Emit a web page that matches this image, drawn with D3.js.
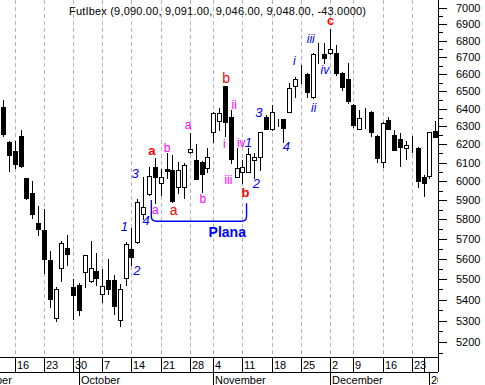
<!DOCTYPE html>
<meta charset="utf-8">
<script src="https://d3js.org/d3.v7.min.js"></script>
<style>
  body { margin: 0; background: #fff; }
  svg { display: block; }
</style>
<div id="chart"></div>
<script>

  // trading days shown (Sep 2002 - Jan 2003)
  var days = ["2002-09-12","2002-09-13","2002-09-16","2002-09-17","2002-09-18","2002-09-19","2002-09-20",
    "2002-09-23","2002-09-24","2002-09-25","2002-09-26","2002-09-27","2002-09-30",
    "2002-10-01","2002-10-02","2002-10-03","2002-10-04","2002-10-07","2002-10-08","2002-10-09","2002-10-10","2002-10-11",
    "2002-10-14","2002-10-15","2002-10-16","2002-10-17","2002-10-18","2002-10-21","2002-10-22","2002-10-23","2002-10-24","2002-10-25",
    "2002-10-28","2002-10-29","2002-10-30","2002-10-31",
    "2002-11-04","2002-11-05","2002-11-06","2002-11-07","2002-11-08","2002-11-11","2002-11-12","2002-11-13","2002-11-14","2002-11-15",
    "2002-11-18","2002-11-19","2002-11-20","2002-11-21","2002-11-22","2002-11-25","2002-11-26","2002-11-27","2002-11-28","2002-11-29",
    "2002-12-02","2002-12-03","2002-12-04","2002-12-05","2002-12-09","2002-12-10","2002-12-11","2002-12-12","2002-12-13",
    "2002-12-16","2002-12-17","2002-12-18","2002-12-19","2002-12-20","2002-12-23","2002-12-27","2002-12-30",
    "2003-01-02","2003-01-03"];

  var open  = [6408,6213,6163,6246,6015,5935,5782,5744,5593,5310,5552,5652,5463,5473,5532,5491,5538,5425,5494,5494,
               5301,5503,5647,5682,5830,5932,6077,5993,6065,6060,5970,5970,6160,6114,6105,6069,6270,6332,6532,6351,
               6023,6047,6050,6114,6132,6351,6283,6322,6340,6383,6532,6597,6599,6465,6723,6717,6723,6727,6605,6571,
               6420,6283,6388,6379,6246,6101,6334,6252,6229,6178,6220,6178,6020,6027,6274];
  var high  = [6449,6218,6218,6280,6017,6000,5869,5856,5638,5461,5690,5719,5499,5481,5620,5690,5628,5548,5600,5519,
               5476,5685,5753,5905,6023,6077,6123,6065,6154,6141,6105,6099,6261,6200,6110,6178,6383,6402,6532,6392,
               6178,6114,6178,6150,6270,6364,6420,6341,6340,6548,6585,6654,6605,6723,6784,6784,6870,6773,6610,6664,
               6425,6392,6405,6385,6250,6322,6353,6280,6261,6218,6246,6183,6033,6270,6330];
  var low   = [6248,6056,6072,6077,5905,5808,5719,5530,5365,5298,5491,5569,5307,5326,5461,5483,5470,5389,5425,5332,
               5274,5470,5569,5677,5804,5926,5883,5926,6015,5891,5935,5912,6152,6011,5944,6050,6214,6280,6248,6099,
               6023,5988,6050,6015,6060,6283,6280,6302,6214,6383,6468,6547,6468,6460,6664,6664,6717,6594,6507,6430,
               6297,6283,6289,6248,6101,6077,6285,6169,6083,6119,6156,5970,5923,6015,6239];
  var close = [6257,6141,6094,6081,5912,5825,5750,5597,5401,5449,5677,5622,5422,5349,5617,5552,5505,5464,5449,5370,
               5449,5672,5609,5888,5865,6027,6020,6025,6054,5896,6062,6087,6174,6011,6037,6132,6373,6373,6326,6118,
               6069,6074,6145,6132,6267,6283,6383,6322,6289,6517,6570,6592,6497,6717,6723,6693,6747,6605,6526,6443,
               6307,6345,6388,6267,6126,6317,6285,6169,6187,6196,6220,6002,5988,6267,6239];

  var weekTicks  = ["2002-09-16","2002-09-23","2002-09-30","2002-10-07","2002-10-14","2002-10-21","2002-10-28",
                    "2002-11-04","2002-11-11","2002-11-18","2002-11-25","2002-12-02","2002-12-09","2002-12-16",
                    "2002-12-23","2002-12-30"];
  var weekLabels = ["16","23","30","7","14","21","28","4","11","18","25","2","9","16","23",""];

  var monthStarts = ["2002-09-02","2002-10-01","2002-11-04","2002-12-02","2003-01-02"];
  var monthLabels = ["September","October","November","December","2003"];

  var priceTicks = [5200,5300,5400,5500,5600,5700,5800,5900,6000,6100,6200,6300,6400,6500,6600,6700,6800,6900,7000];
  var minorTicks = [5150,5250,5350,5450,5550,5650,5750,5850,5950,6050,6150,6250,6350,6450,6550,6650,6750,6850,6950];

  var title = "FutIbex (9,090.00, 9,091.00, 9,046.00, 9,048.00, -43.0000)";

  // wave labels: text, day index, price, kind
  var waveLabels = [
    ["1", 20.8, 5739, "wave"], ["2", 22.9, 5519, "wave"], ["3", 22.6, 6018, "wave"], ["4", 24.5, 5770, "wave"],
    ["1", 42.0, 6187, "wave"], ["2", 43.4, 5962, "wave"], ["3", 43.8, 6353, "wave"], ["4", 48.5, 6163, "wave"],
    ["i", 49.9, 6654, "sub"], ["ii", 53.2, 6379, "sub"], ["iii", 52.7, 6784, "sub"], ["iv", 55.1, 6599, "sub"],
    ["a", 25.5, 6141, "redB"], ["a", 29.2, 5822, "red"], ["b", 38.2, 6546, "red"], ["b", 41.5, 5917, "redB"],
    ["c", 56.1, 6895, "redB"],
    ["a", 26.1, 5830, "mag"], ["b", 28.1, 6160, "mag"], ["a", 31.7, 6285, "mag"], ["b", 34.2, 5883, "mag"],
    ["i", 37.9, 6178, "mag"], ["ii", 39.6, 6398, "mag"], ["iii", 38.6, 5985, "mag"], ["iv", 40.8, 6187, "mag"],
    ["Plana", 38.4, 5709, "plana"]
  ];
  // bracket under the flat correction: from/to day index, top prices, bottom price
  var bracket = {from: 25.4, to: 41.7, leftTop: 5900, rightTop: 5884, bottom: 5790};

  var styles = {
    wave:  {fill: "#0000ff", size: 13, weight: "normal", italic: true},
    sub:   {fill: "#0000ff", size: 12, weight: "normal", italic: true},
    red:   {fill: "#ff0000", size: 14, weight: "normal", italic: false},
    redB:  {fill: "#ff0000", size: 13, weight: "bold", italic: false},
    mag:   {fill: "#ff00ff", size: 12, weight: "normal", italic: false},
    plana: {fill: "#0000ff", size: 14, weight: "bold", italic: false}
  };

  var W = 485, H = 385, plotW = 438, plotH = 357, row1 = 372;
  var font = "'Liberation Sans', Arial, sans-serif";

  var svg = d3.select("#chart").append("svg")
      .attr("width", W).attr("height", H)
      .style("font-family", font);

  var x = d3.scaleLinear().domain([0, days.length - 1]).range([3, 435.2]);
  var y = d3.scaleLog().domain([5200, 7000]).range([342, 8]);

  // index of a date; dates before the first shown day count weekdays back
  function dayIndex(d) {
    var i = days.indexOf(d);
    if (i >= 0) return i;
    var t = new Date(d + "T12:00:00"), first = new Date(days[0] + "T12:00:00"), n = 0;
    while (t < first) { var wd = t.getDay(); if (wd > 0 && wd < 6) n++; t.setDate(t.getDate() + 1); }
    return -n;
  }
  function px(i) { return Math.round(x(i)) + 0.5; }

  // dashed weekly grid
  svg.append("g")
    .selectAll("line")
    .data(weekTicks.filter(function(d, i) { return weekLabels[i] !== ""; }))
    .enter().append("line")
      .attr("x1", function(d) { return px(dayIndex(d)); })
      .attr("x2", function(d) { return px(dayIndex(d)); })
      .attr("y1", 0).attr("y2", plotH)
      .attr("stroke", "#b4b4b4")
      .attr("stroke-dasharray", "4,3")
      .attr("shape-rendering", "crispEdges");

  // candles
  var candles = days.map(function(d, i) { return {i: i, o: open[i], h: high[i], l: low[i], c: close[i]}; });
  var cg = svg.append("g").attr("shape-rendering", "crispEdges");
  cg.selectAll("line").data(candles).enter().append("line")
      .attr("x1", function(d) { return px(d.i); })
      .attr("x2", function(d) { return px(d.i); })
      .attr("y1", function(d) { return Math.round(y(d.h)); })
      .attr("y2", function(d) { return Math.round(y(d.l)) + 1; })
      .attr("stroke", "#000");
  cg.selectAll("rect").data(candles).enter().append("rect")
      .attr("x", function(d) { return px(d.i) - 2; })
      .attr("width", 4)
      .attr("y", function(d) { return Math.round(y(Math.max(d.o, d.c))) + 0.5; })
      .attr("height", function(d) { return Math.max(0, Math.round(y(Math.min(d.o, d.c))) - Math.round(y(Math.max(d.o, d.c)))); })
      .attr("fill", function(d) { return d.c > d.o ? "#fff" : "#000"; })
      .attr("stroke", "#000");

  // right price axis
  var ax = svg.append("g").attr("shape-rendering", "crispEdges").attr("stroke", "#000");
  ax.append("line").attr("x1", plotW + 0.5).attr("x2", plotW + 0.5).attr("y1", 0).attr("y2", row1);
  ax.selectAll("line.maj").data(priceTicks).enter().append("line")
      .attr("x1", plotW).attr("x2", plotW + 9)
      .attr("y1", function(d) { return Math.round(y(d)) + 0.5; })
      .attr("y2", function(d) { return Math.round(y(d)) + 0.5; });
  ax.selectAll("line.min").data(minorTicks).enter().append("line")
      .attr("x1", plotW).attr("x2", plotW + 5)
      .attr("y1", function(d) { return Math.round(y(d)) + 0.5; })
      .attr("y2", function(d) { return Math.round(y(d)) + 0.5; });
  svg.append("g").selectAll("text").data(priceTicks).enter().append("text")
      .attr("x", 456).attr("y", function(d) { return y(d); })
      .attr("dy", "0.36em")
      .style("font-size", "11px")
      .text(function(d) { return d; });

  // date axis (two rows)
  svg.append("clipPath").attr("id", "axclip")
    .append("rect").attr("x", 0).attr("y", plotH).attr("width", plotW).attr("height", H - plotH);
  var dx = svg.append("g").attr("clip-path", "url(#axclip)");
  var dl = dx.append("g").attr("shape-rendering", "crispEdges").attr("stroke", "#000");
  dl.append("line").attr("x1", 0).attr("x2", plotW + 1).attr("y1", plotH + 0.5).attr("y2", plotH + 0.5);
  dl.append("line").attr("x1", 0).attr("x2", plotW + 1).attr("y1", row1 + 0.5).attr("y2", row1 + 0.5);
  dl.selectAll("line.wk").data(weekTicks).enter().append("line")
      .attr("x1", function(d) { return px(dayIndex(d)); })
      .attr("x2", function(d) { return px(dayIndex(d)); })
      .attr("y1", plotH).attr("y2", row1);
  dl.selectAll("line.mo").data(monthStarts).enter().append("line")
      .attr("x1", function(d) { return px(dayIndex(d)); })
      .attr("x2", function(d) { return px(dayIndex(d)); })
      .attr("y1", function(d, i) { return i === 4 ? row1 : plotH; }).attr("y2", H);
  dx.selectAll("text.wk").data(weekTicks).enter().append("text")
      .attr("x", function(d) { return px(dayIndex(d)) + 1.5; })
      .attr("y", 368.5)
      .style("font-size", "11px")
      .text(function(d, i) { return weekLabels[i]; });
  dx.selectAll("text.mo").data(monthStarts).enter().append("text")
      .attr("x", function(d) { return px(dayIndex(d)) + 1.5; })
      .attr("y", 383.5)
      .style("font-size", "11px")
      .text(function(d, i) { return monthLabels[i]; });

  // title
  svg.append("text")
      .attr("x", 69).attr("y", 14.5)
      .attr("textLength", 297).attr("lengthAdjust", "spacing")
      .style("font-size", "11px")
      .text(title);

  // bracket
  var bx0 = x(bracket.from), bx1 = x(bracket.to), by = y(bracket.bottom), r = 5;
  svg.append("path")
      .attr("d", "M" + bx0 + "," + y(bracket.leftTop) +
                 "V" + (by - r) + "Q" + bx0 + "," + by + " " + (bx0 + r) + "," + by +
                 "H" + (bx1 - r) + "Q" + bx1 + "," + by + " " + bx1 + "," + (by - r) +
                 "V" + y(bracket.rightTop))
      .attr("fill", "none")
      .attr("stroke", "#0000ff")
      .attr("stroke-width", 1.4);

  // wave labels
  svg.append("g").selectAll("text").data(waveLabels).enter().append("text")
      .attr("x", function(d) { return x(d[1]); })
      .attr("y", function(d) { return y(d[2]); })
      .attr("text-anchor", "middle")
      .attr("fill", function(d) { return styles[d[3]].fill; })
      .style("font-size", function(d) { return styles[d[3]].size + "px"; })
      .style("font-weight", function(d) { return styles[d[3]].weight; })
      .style("font-style", function(d) { return styles[d[3]].italic ? "italic" : "normal"; })
      .text(function(d) { return d[0]; });

</script>
